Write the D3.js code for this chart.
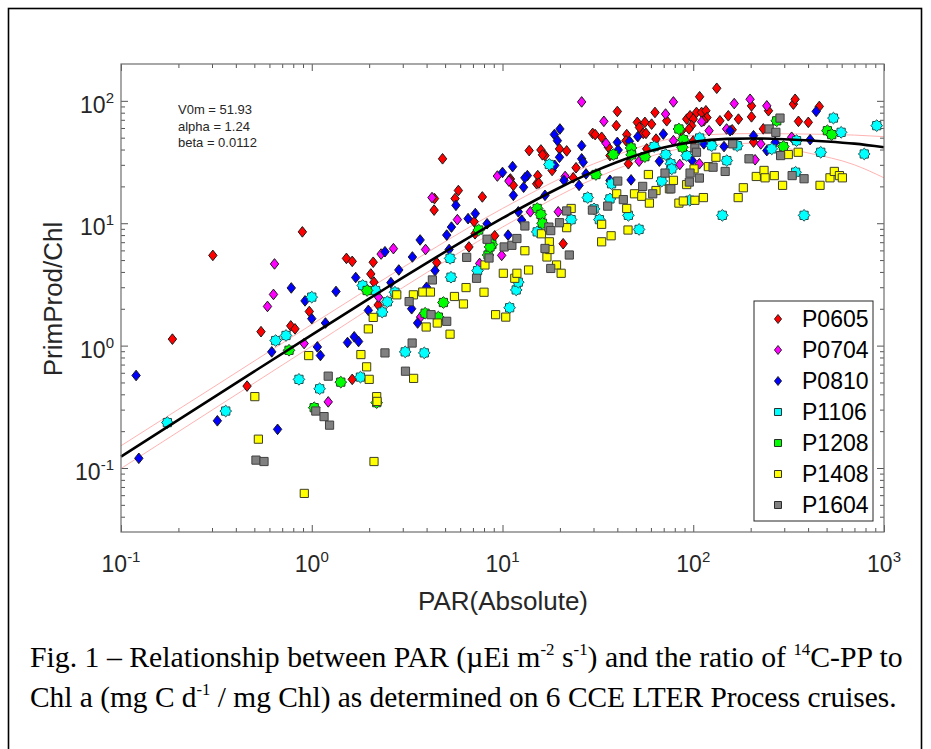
<!DOCTYPE html>
<html>

<head>
    <meta charset='utf-8'>
</head>
<style>
    body {
        margin: 0;
        background: #fff;
    }

    .tick line {
        stroke: #555;
    }

    .tick text {
        display: none;
    }

    .axis path.domain {
        display: none;
    }
</style>

<body>
    <div id='chart'></div>
    <script src="https://d3js.org/d3.v7.min.js"></script>
    <script>
        // cruise names (legend order)
        var cruises = ['P0605', 'P0704', 'P0810', 'P1106', 'P1208', 'P1408', 'P1604'];

        // [PAR, PrimProd/Chl]
        var p0605 = [
            [0.186, 1.13], [0.303, 5.46], [0.458, 0.467], [0.542, 1.30], [0.776, 1.45], [0.817, 1.37], [0.893, 8.5], [0.971, 1.90],
            [1.52, 5.16], [1.63, 4.88], [1.63, 0.53], [2.10, 4.8], [2.04, 3.85], [2.12, 3.3], [2.23, 2.15], [4.52, 4.77],
            [4.4, 15.9], [4.38, 12.8], [4.85, 33.6], [5.87, 18.5], [5.64, 15.9], [6.67, 6.4], [7.18, 8.2], [7.1, 10.3], [7.84, 16.4], [9.1, 7.9],
            [11.0, 23], [11.4, 20.4], [13.8, 39.2], [15.9, 39.7], [16.7, 35.7], [16.2, 36.2], [21.7, 39], [19.9, 40.5], [18.2, 27],
            [15.3, 24.5], [15.1, 21], [15.5, 21.3], [10.9, 22.6], [24.3, 28.4], [23.5, 23.5],
            [29.7, 54.2], [30.6, 53], [33.1, 50.4], [40, 81.9], [39.5, 62.7], [35.9, 41.8], [36.6, 35.7], [44.8, 53], [44.4, 47.3],
            [45.7, 30.6], [50.9, 66.7], [52.2, 60.7], [55.8, 66.7], [54.7, 54.2], [56.5, 54.2], [60.5, 64.5], [63, 80.4], [63.8, 48.7], [57, 40.5],
            [72.6, 68.7], [92.4, 70.9], [96.2, 75.5], [100, 70.9], [104, 80.4], [108, 108], [110.6, 80.4], [116.5, 83], [118, 73],
            [113.6, 68.7], [98, 62.7], [87, 57], [95, 58.9], [100, 47],
            [132.8, 126.7], [138, 68.7], [152.7, 75.5], [172.6, 70.9], [202, 74], [202, 91], [207, 46], [233, 59], [248, 83], [160, 58],
            [335, 94], [342, 103], [356, 68], [401, 66.7], [458, 90], [20.8, 6.8]
        ];
        var p0704 = [
            [0.586, 2.09], [0.63, 2.62], [0.638, 4.65], [0.912, 1.04], [1.22, 0.347], [2.24, 2.49], [2.31, 5.6], [2.68, 6.2], [3.72, 1.71],
            [3.95, 6.1], [4.27, 16.2], [5.8, 10.7], [7.59, 4.69], [9.9, 5.46], [9.4, 24.3], [10.8, 22.1], [14, 12.4], [19.6, 12.4], [21.3, 24.1],
            [26, 98], [34, 68], [34.9, 45], [52, 32.1], [71.6, 78], [78.7, 98], [78.7, 47.3], [85, 30.2], [107.7, 30.6], [110.6, 67.5],
            [121, 57], [149.6, 58.9], [164, 95], [198.6, 103], [211, 33], [226, 44.5], [243, 91], [328, 50.4]
        ];
        var p0810 = [
            [0.12, 0.57], [0.124, 0.12], [0.32, 0.243], [0.662, 0.207], [0.617, 0.889], [0.781, 2.96], [0.922, 2.32], [1.0, 1.66],
            [1.07, 0.976], [1.11, 0.83], [1.18, 1.53], [1.34, 2.77], [1.54, 1.06], [1.67, 1.18], [1.76, 1.08], [1.70, 3.6], [1.98, 1.94],
            [2.42, 5.85], [2.6, 3.27], [2.86, 4.15], [3.34, 2.0], [3.59, 1.53], [4.0, 3.0], [4.43, 4.1], [5.25, 6.1], [3.37, 5.3], [3.7, 7.3],
            [5.1, 8.0], [5.4, 9.3], [5.7, 14], [6.6, 10.9], [7.2, 12], [8.3, 9.9],
            [10.7, 8], [12.6, 10.6], [12.1, 12.4], [11.4, 16.9], [16.7, 16.9], [10, 26], [11.3, 29], [13.5, 24.5], [12.9, 19.7], [13.1, 23.5],
            [18.7, 53], [20, 58.9], [19.4, 47.3], [19.9, 34.6], [18.8, 29.7], [21, 22.4], [25.2, 20.4], [27.4, 25.3], [26, 43], [26, 33.6], [26.5, 31.5],
            [36.6, 22.4], [40, 45.8], [40.4, 39.7], [46.3, 46.7], [47.2, 22.6], [51.2, 51], [66.4, 32.1], [69.7, 53.5], [98.8, 32.5],
            [113.6, 44.5], [145, 42.3], [156, 57], [207, 51.9], [243, 39.2], [269, 45.8], [410, 48.2], [441, 82]
        ];
        var p1106 = [
            [0.175, 0.235], [0.354, 0.292], [0.647, 1.10], [0.733, 1.21], [1.0, 2.49], [0.857, 0.53], [1.10, 0.444], [1.80, 0.553],
            [1.85, 3.1], [2.16, 2.82], [2.49, 2.28], [2.34, 1.88], [2.73, 2.73], [3.09, 0.889], [3.89, 0.872], [5.31, 5.16], [5.37, 3.62], [7.4, 4.1],
            [10.9, 2.04], [11.8, 2.85], [12.1, 3.3], [15.2, 8.5], [17.6, 30.2], [22.9, 10.7], [28, 16.2], [30.2, 13.1], [32.2, 10.7],
            [36.6, 15.8], [37.3, 21], [45.7, 11.6], [52, 8.9], [62.4, 42.3], [68.4, 22.1], [71.8, 36.4], [76.3, 30.6], [77.1, 27.8],
            [92.4, 35.7], [96, 15.4], [108, 49.7], [125, 43], [142, 11.6], [150, 32.5], [170, 43], [258, 40.5], [344, 26.1], [348, 47.3],
            [381, 11.6], [466, 38], [543, 72.3], [596, 55.3], [788, 36.8], [916, 62.7]
        ];
        var p1208 = [
            [0.76, 0.916], [1.03, 0.311], [1.42, 0.503], [1.95, 2.82], [2.19, 0.342], [3.93, 1.84], [4.61, 1.71], [4.9, 2.25],
            [7.5, 8.8], [8.8, 6.7], [8.4, 5.5], [8.6, 6.4], [15.2, 13.2], [15.9, 11.8], [16.2, 10], [30.9, 25], [38.1, 36.4],
            [47.2, 41.2], [47.5, 36.2], [55.8, 35], [84.1, 58.9], [88.7, 48.2], [87.7, 41.8], [274, 68.7], [297, 42.3], [505, 57], [532, 53]
        ];
        var p1408 = [
            [0.503, 0.383], [0.525, 0.172], [0.914, 0.062], [0.964, 0.829], [1.81, 0.845], [1.94, 0.671], [2.0, 0.53], [1.98, 1.37],
            [2.1, 1.7], [2.19, 0.383], [2.2, 0.35], [2.12, 0.113], [2.79, 2.6], [3.41, 2.6], [3.42, 0.54], [3.82, 2.74], [4.19, 2.74],
            [3.98, 1.42], [4.55, 1.53], [5.31, 1.24], [5.6, 2.52], [6.24, 2.19], [6.44, 2.98], [8.0, 2.73], [9.2, 1.79], [8.09, 4.56],
            [10.1, 3.9], [10.4, 1.71], [11.6, 3.55], [11.9, 3.9],
            [13.1, 5.96], [13.7, 4.15], [16, 8.2], [17.1, 5.3], [17.6, 7.05], [17.7, 6.1], [19.2, 4.56], [20.3, 3.9], [21.7, 9.2], [22.9, 13.2],
            [33.1, 9.8], [33.1, 7.05], [37.1, 7.9], [39.7, 17.4], [44.8, 13.2], [45.5, 8.8], [49.2, 17.4], [53.7, 16.6], [58.9, 14.6],
            [58.2, 25], [63.8, 18.5], [75, 19.1], [78.7, 22.4], [84.1, 14.6], [88.7, 15.2], [92.4, 20.7], [101, 27.8], [102, 15.4],
            [113, 16.2], [120, 29], [131.5, 34.6], [172, 16.2], [183, 19.5], [214, 24.1], [235, 27], [238, 23.5], [266, 24.5],
            [294, 20.4], [315, 36.4], [355, 38], [462, 20.4], [521, 23.5], [549, 26.5], [584, 24.5], [605, 23.5]
        ];
        var p1604 = [
            [0.51, 0.116], [0.562, 0.113], [1.05, 0.292], [1.16, 0.263], [1.24, 0.224], [1.22, 0.563], [2.42, 0.872], [3.1, 0.618],
            [3.36, 1.05], [3.24, 2.29], [4.29, 3.44], [4.22, 1.79], [5.1, 1.58], [6.49, 5.26], [7.31, 3.55], [8.5, 5.2], [8.3, 7.4],
            [10.2, 6.4], [11.2, 6.6], [11.9, 7.5], [13.1, 9.5], [16.7, 6.22], [17.5, 9.3], [17.9, 8.7], [17.9, 4.27], [19.9, 10.1],
            [21.7, 12.6], [22.4, 5.5], [29.6, 12.8], [35.6, 13.8], [40.2, 22.1], [43, 15.6], [54.3, 20], [61.3, 17.4], [71.1, 25.7],
            [76.3, 19.1], [95.4, 21.7], [96.2, 25.7], [102, 41.2], [104, 38], [107.7, 23.4], [127, 28.7], [147, 26.5], [161, 44.5],
            [196, 33.6], [250, 58.9], [271, 55.3], [285, 72.3], [287, 35.7], [330, 24.5], [381, 23.1]
        ];

        // fitted P-E curve and its pink confidence band
        var fitPar = [0.1, 0.2, 0.5, 1, 2, 3, 5, 10, 20, 30, 50, 70, 100, 150, 200, 300, 500, 700, 1000];
        var fitVal = [0.124, 0.247, 0.616, 1.225, 2.42, 3.59, 5.84, 11.0, 19.6, 26.4, 35.8, 41.5, 46.2, 48.9, 49.3, 48.6, 46.6, 44.7, 41.8];
        var bandPar = [0.1, 0.3, 1, 3, 10, 30, 100, 200, 400, 700, 1000];
        var bandHi = [0.152, 0.45, 1.49, 4.35, 13.2, 30.5, 52, 54, 53.5, 52.5, 51];
        var bandLo = [0.099, 0.297, 0.99, 2.98, 9.3, 23, 42.3, 45, 37.5, 30, 23.5];

        var fitText = ['V0m = 51.93', 'alpha = 1.24', 'beta = 0.0112'];
        var xDecades = [-1, 0, 1, 2, 3];
        var yDecades = [-1, 0, 1, 2];

        var seriesData = [p0605, p0704, p0810, p1106, p1208, p1408, p1604];

        d3.select('#chart').call(drawChart());

        function drawChart() {
            var width = 931;
            var height = 749;
            var plot = { left: 121, right: 884, top: 64, bottom: 532 };

            var fills = ['#ff0000', '#ff00ff', '#0000ff', '#00ffff', '#00ff00', '#ffff00', '#808080'];
            var strokes = ['#1a1a1a', '#1a1a1a', '#1a1a1a', '#1f4d4d', '#1f3f1f', '#3f3f26', '#404040'];
            var shapes = ['diamond', 'diamond', 'diamond', 'star', 'star', 'square', 'square'];
            var legendShapes = ['diamond', 'diamond', 'diamond', 'square', 'square', 'square', 'square'];

            function markerPath(kind, s) {
                if (kind === 'diamond') {
                    var w = 4.2 * s, h = 5.3 * s;
                    return 'M0,' + (-h) + 'L' + w + ',0L0,' + h + 'L' + (-w) + ',0Z';
                }
                if (kind === 'square') {
                    var a = 4.1 * s;
                    return 'M' + (-a) + ',' + (-a) + 'H' + a + 'V' + a + 'H' + (-a) + 'Z';
                }
                // square with a rotated square on top: 8 point star
                var pts = [];
                for (var k = 0; k < 16; k++) {
                    var r = (k % 2 === 0) ? 5.8 * s : 4.5 * s;
                    var ang = k * Math.PI / 8 - Math.PI / 2;
                    pts.push([r * Math.cos(ang), r * Math.sin(ang)]);
                }
                return 'M' + pts.map(function(p) { return p[0].toFixed(2) + ',' + p[1].toFixed(2); }).join('L') + 'Z';
            }

            function chart(selection) {
                selection.each(function() {
                    var svg = d3.select(this)
                        .append('svg')
                        .attr('width', width)
                        .attr('height', height)
                        .style('font-family', 'Liberation Sans, Arial, sans-serif');

                    var x = d3.scaleLog().domain([0.1, 1000]).range([plot.left, plot.right]);
                    var y = d3.scaleLog().domain([0.03, 200]).range([plot.bottom, plot.top]);

                    // outer figure frame
                    svg.append('rect')
                        .attr('x', 8.5).attr('y', 8.5)
                        .attr('width', 913).attr('height', 760)
                        .attr('fill', 'none').attr('stroke', '#000').attr('stroke-width', 1.6);

                    var xMajor = xDecades.map(function(e) { return Math.pow(10, e); });
                    var yMajor = yDecades.map(function(e) { return Math.pow(10, e); });
                    var xMinor = x.ticks().filter(function(t) { return xMajor.indexOf(t) < 0; });
                    var yMinor = y.ticks().filter(function(t) { return yMajor.indexOf(t) < 0 && t > 0.03 && t < 200; });

                    // ticks inside the box on all four sides
                    function addAxis(gen, tr, vals, size) {
                        svg.append('g').attr('class', 'axis')
                            .attr('transform', tr)
                            .call(gen.tickValues(vals).tickSize(-size).tickFormat(''));
                    }
                    [[xMajor, 7], [xMinor, 4]].forEach(function(t) {
                        addAxis(d3.axisBottom(x), 'translate(0,' + plot.bottom + ')', t[0], t[1]);
                        addAxis(d3.axisTop(x), 'translate(0,' + plot.top + ')', t[0], t[1]);
                    });
                    [[yMajor, 7], [yMinor, 4]].forEach(function(t) {
                        addAxis(d3.axisLeft(y), 'translate(' + plot.left + ',0)', t[0], t[1]);
                        addAxis(d3.axisRight(y), 'translate(' + plot.right + ',0)', t[0], t[1]);
                    });

                    // confidence band and fitted curve
                    var bandLine = function(vals) {
                        return d3.line()
                            .x(function(d, i) { return x(bandPar[i]); })
                            .y(function(d) { return y(d); })
                            .curve(d3.curveMonotoneX)(vals);
                    };
                    svg.append('path').attr('d', bandLine(bandHi))
                        .attr('fill', 'none').attr('stroke', '#ffb3b3').attr('stroke-width', 1);
                    svg.append('path').attr('d', bandLine(bandLo))
                        .attr('fill', 'none').attr('stroke', '#ffb3b3').attr('stroke-width', 1);

                    // points
                    seriesData.forEach(function(data, si) {
                        svg.append('g')
                            .selectAll('path')
                            .data(data)
                            .enter().append('path')
                            .attr('d', markerPath(shapes[si], 1))
                            .attr('transform', function(d) { return 'translate(' + x(d[0]) + ',' + y(d[1]) + ')'; })
                            .attr('fill', fills[si])
                            .attr('stroke', strokes[si])
                            .attr('stroke-width', 1);
                    });

                    svg.append('path')
                        .attr('d', d3.line()
                            .x(function(d, i) { return x(fitPar[i]); })
                            .y(function(d) { return y(d); })
                            .curve(d3.curveMonotoneX)(fitVal))
                        .attr('fill', 'none').attr('stroke', '#000').attr('stroke-width', 2.6);

                    // box
                    svg.append('rect')
                        .attr('x', plot.left).attr('y', plot.top)
                        .attr('width', plot.right - plot.left).attr('height', plot.bottom - plot.top)
                        .attr('fill', 'none').attr('stroke', '#6e6e6e').attr('stroke-width', 1.2);

                    // tick labels with superscript exponents
                    function powerLabel(g, e) {
                        g.append('tspan').text('10');
                        g.append('tspan').attr('dy', -10).style('font-size', '15px').text(e);
                    }
                    xDecades.forEach(function(e) {
                        var t = svg.append('text')
                            .attr('x', x(Math.pow(10, e))).attr('y', 572)
                            .attr('text-anchor', 'middle')
                            .style('font-size', '23px').attr('fill', '#262626');
                        powerLabel(t, e);
                    });
                    yDecades.forEach(function(e) {
                        var t = svg.append('text')
                            .attr('x', 114).attr('y', y(Math.pow(10, e)) + 12)
                            .attr('text-anchor', 'end')
                            .style('font-size', '23px').attr('fill', '#262626');
                        powerLabel(t, e);
                    });

                    svg.append('text')
                        .attr('x', 503).attr('y', 610)
                        .attr('text-anchor', 'middle')
                        .style('font-size', '26px').attr('fill', '#262626')
                        .text('PAR(Absolute)');
                    svg.append('text')
                        .attr('transform', 'translate(62,299) rotate(-90)')
                        .attr('text-anchor', 'middle')
                        .style('font-size', '26px').attr('fill', '#262626')
                        .text('PrimProd/Chl');

                    // fit parameters
                    fitText.forEach(function(s, i) {
                        svg.append('text')
                            .attr('x', 178).attr('y', 114 + i * 16.7)
                            .style('font-size', '13px').attr('fill', '#262626')
                            .text(s);
                    });

                    // legend
                    var lg = svg.append('g');
                    lg.append('rect')
                        .attr('x', 754).attr('y', 301).attr('width', 119).attr('height', 220)
                        .attr('fill', '#fff').attr('stroke', '#262626').attr('stroke-width', 1);
                    cruises.forEach(function(name, i) {
                        var cy = 319 + i * 31;
                        lg.append('path')
                            .attr('d', markerPath(legendShapes[i], 0.85))
                            .attr('transform', 'translate(778,' + cy + ')')
                            .attr('fill', fills[i]).attr('stroke', '#1a1a1a').attr('stroke-width', 0.9);
                        lg.append('text')
                            .attr('x', 802).attr('y', cy + 8)
                            .style('font-size', '23px').attr('fill', '#000')
                            .text(name);
                    });

                    // caption: natural Times, then squeezed sideways to the printed width
                    var cap = svg.append('g')
                        .style('font-family', 'Liberation Serif, Times New Roman, serif')
                        .style('font-size', '30px')
                        .attr('fill', '#000');
                    function capLine(yy, parts, len) {
                        var t = cap.append('text').attr('x', 0).attr('y', 0);
                        var raised = false;
                        parts.forEach(function(p) {
                            var isSup = typeof p !== 'string';
                            var sp = t.append('tspan');
                            if (isSup) {
                                sp.attr('dy', -12).style('font-size', '17px').text(p.sup);
                                raised = true;
                            } else {
                                if (raised) sp.attr('dy', 12);
                                raised = false;
                                sp.text(p);
                            }
                        });
                        var w = t.node().getComputedTextLength();
                        t.attr('transform', 'translate(30,' + yy + ') scale(' + (len / w).toFixed(4) + ',1)');
                    }
                    capLine(667, ['Fig. 1 \u2013 Relationship between PAR (\u00b5Ei m', { sup: '-2' }, ' s', { sup: '-1' },
                        ') and the ratio of ', { sup: '14' }, 'C-PP to'], 873);
                    capLine(707, ['Chl a (mg C d', { sup: '-1' }, ' / mg Chl) as determined on 6 CCE LTER Process cruises.'], 867);
                });
            }

            return chart;
        }
    </script>
</body>

</html>
